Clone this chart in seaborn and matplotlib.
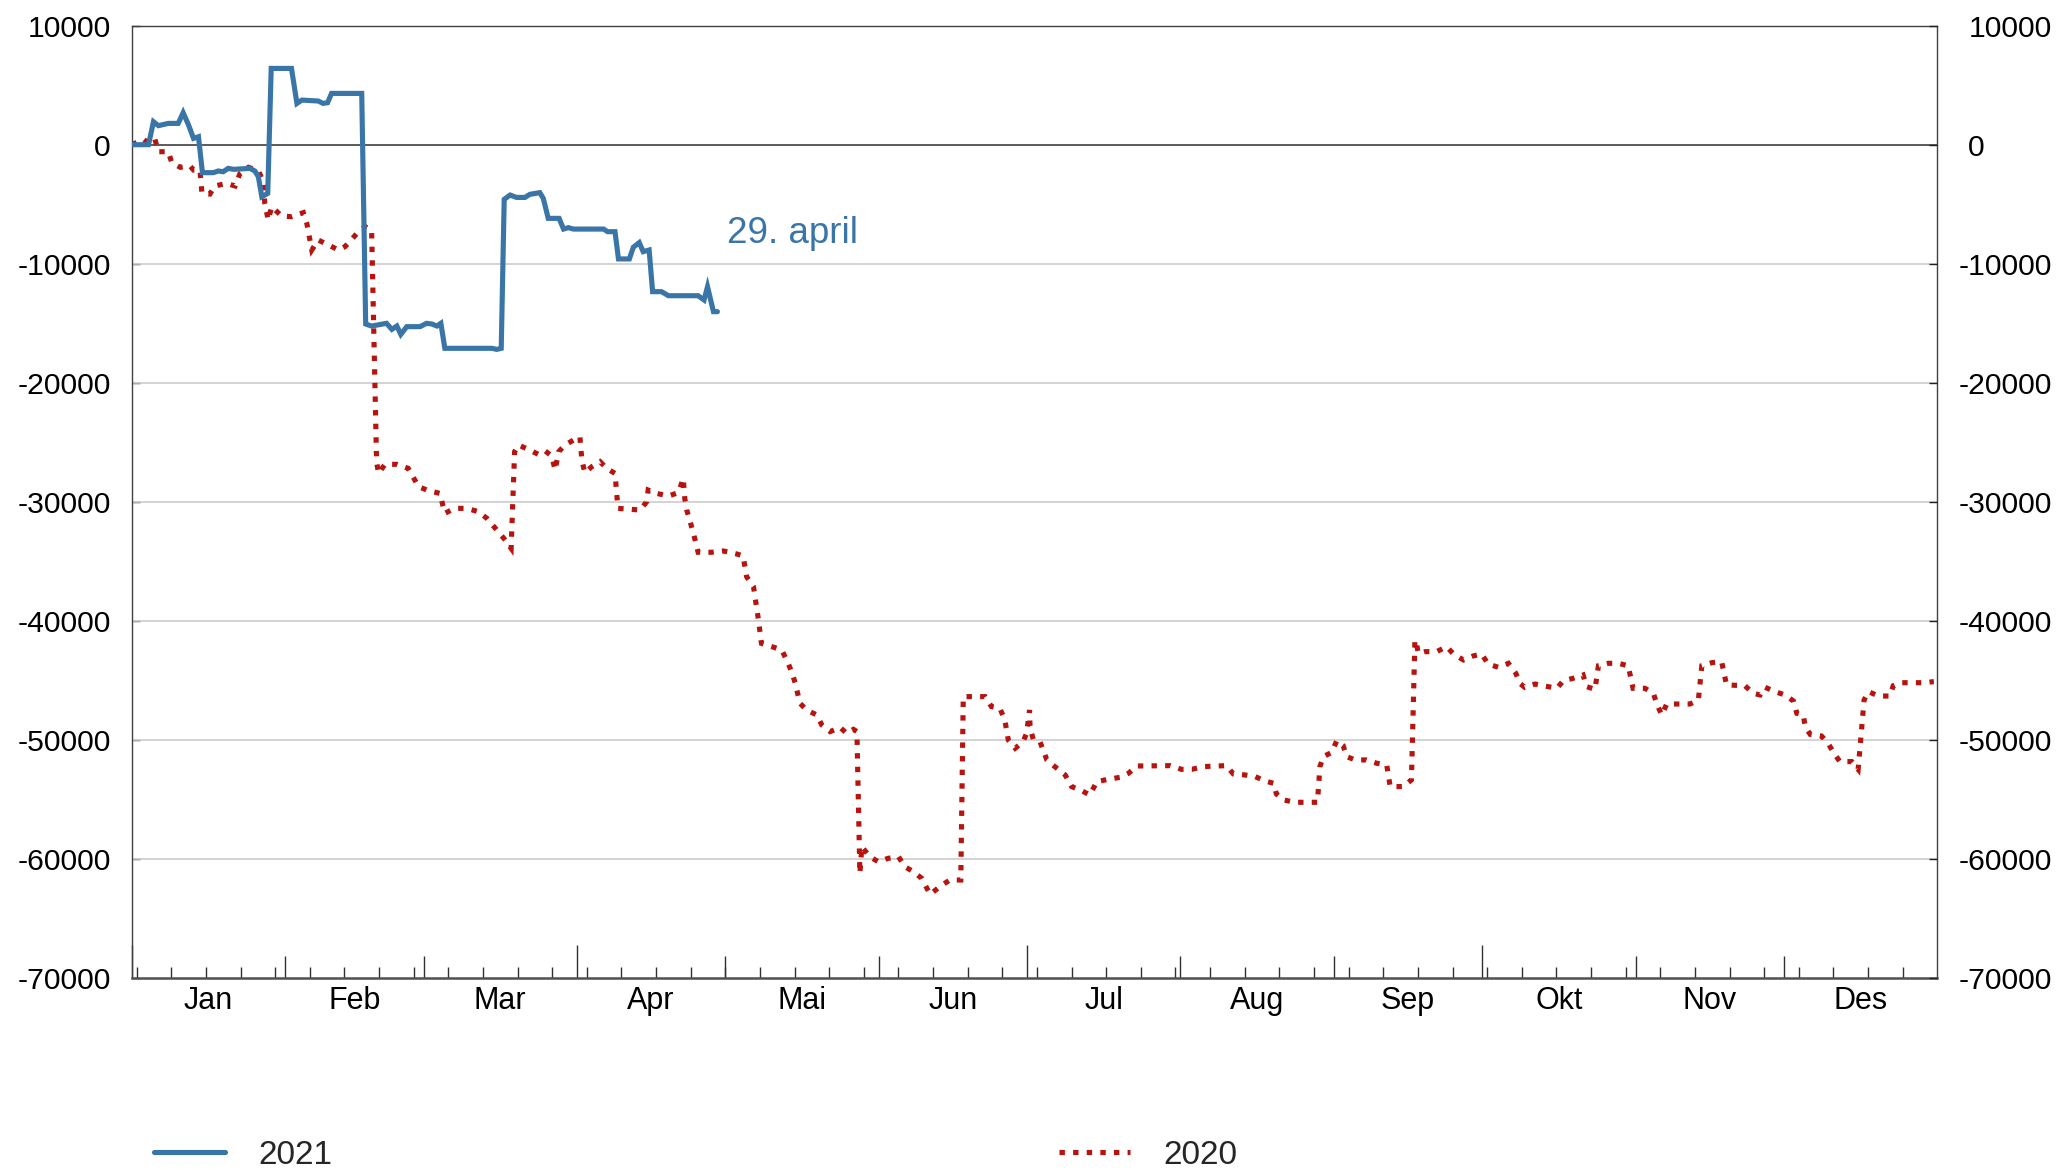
import numpy as np
import pandas as pd
import matplotlib
matplotlib.use("Agg")
import matplotlib.pyplot as plt
import matplotlib.transforms as mtransforms
from matplotlib.lines import Line2D
import seaborn as sns

# ---------------- data (day of year, 0 = 1 Jan) ----------------
days_2021 = [0, 3.4, 4.4, 5.4, 7.4, 9.4, 10.4, 11.5, 12.5, 13.5,
             14.3, 16.5, 17.5, 18.5, 19.5, 20.6, 23.9, 24.9, 25.6, 26.3,
             27.5, 28.2, 32.3, 33.4, 34.4, 37.7, 38.7, 39.6, 40.4, 46.5,
             47.3, 48.5, 51.5, 52.6, 53.6, 54.4, 55.6, 58.3, 59.6, 60.7,
             61.7, 62.5, 63.3, 72.8, 73.8, 74.7, 75.3, 76.5, 77.8, 79.5,
             80.5, 82.5, 83.2, 84.2, 86.4, 87.3, 88.3, 89.3, 95.4, 96.2,
             97.7, 98.4, 100.6, 101.4, 102.6, 103.4, 104.6, 105.3, 107.1, 108.5,
             114.5, 115.7, 116.4, 117.6, 118.4]
values_2021 = [0, 0, 1930, 1600, 1790, 1790, 2690, 1650, 530, 670,
               -2350, -2350, -2210, -2270, -1990, -2070, -1990, -2210, -2690, -4370,
               -4090, 6410, 6410, 3470, 3750, 3670, 3470, 3530, 4310, 4310,
               -15070, -15240, -15010, -15520, -15240, -15940, -15290, -15290, -15010, -15070,
               -15240, -15010, -17110, -17110, -17200, -17110, -4590, -4230, -4430, -4430,
               -4170, -4030, -4510, -6190, -6190, -7090, -6970, -7090, -7090, -7310,
               -7310, -9600, -9600, -8620, -8230, -8990, -8850, -12350, -12350, -12690,
               -12690, -13050, -11930, -14030, -14030]

days_2020 = [0, 2.4, 3.5, 4.7, 5.4, 7.4, 8.1, 9.8, 11.8, 12.5,
             13.8, 14.2, 15.8, 16.8, 19.2, 20.9, 21.9, 23.6, 25.6, 26.6,
             26.9, 27.6, 28.3, 30.3, 32.3, 34.7, 35.4, 36.4, 37.7, 39.8,
             41.8, 43.1, 44.5, 45.8, 47.2, 48.5, 49.5, 49.9, 51.2, 53.6,
             55.9, 58.0, 60.0, 62.3, 63.3, 65.3, 67.7, 70.1, 71.8, 74.1,
             75.5, 76.7, 77.4, 78.2, 80.2, 82.2, 83.6, 84.9, 85.6, 86.3,
             87.6, 89.3, 90.6, 91.0, 91.6, 93.0, 94.7, 96.0, 97.7, 98.3,
             102.8, 104.1, 104.4, 106.1, 108.5, 110.5, 111.5, 111.8, 112.2, 112.9,
             113.9, 114.5, 117.2, 119.6, 122.3, 123.6, 124.3, 125.7, 126.0, 126.7,
             127.3, 129.4, 131.4, 132.4, 133.4, 134.1, 135.1, 136.4, 138.5, 139.5,
             141.2, 143.2, 144.5, 145.9, 146.6, 147.2, 147.6, 149.2, 150.9, 152.9,
             155.0, 156.3, 158.0, 159.7, 161.4, 163.5, 165.4, 167.6, 168.1, 172.5,
             173.8, 175.5, 176.5, 177.2, 178.6, 180.2, 180.9, 181.5, 181.6, 182.3,
             183.6, 185.0, 186.6, 188.7, 190.0, 192.0, 193.7, 195.1, 197.4, 199.8,
             201.5, 203.2, 209.9, 212.2, 214.3, 216.6, 221.3, 222.7, 225.0, 227.1,
             229.1, 230.8, 231.4, 232.8, 235.2, 239.7, 240.2, 240.9, 242.6, 243.6,
             244.9, 245.6, 247.3, 249.6, 251.7, 253.7, 254.4, 257.1, 258.7, 259.4,
             259.7, 260.1, 261.4, 263.8, 265.8, 267.2, 269.2, 271.2, 272.9, 274.2,
             276.3, 278.3, 279.8, 280.6, 281.6, 283.7, 285.7, 288.1, 289.4, 291.4,
             293.4, 294.1, 295.8, 296.5, 298.5, 300.5, 302.5, 303.5, 305.9, 307.6,
             308.3, 309.3, 310.3, 315.0, 316.7, 317.4, 319.5, 321.4, 322.4, 326.1,
             327.8, 329.2, 330.2, 332.2, 334.2, 335.9, 336.6, 337.9, 338.3, 339.3,
             341.6, 343.0, 344.0, 345.3, 347.7, 349.0, 350.2, 351.1, 353.1, 355.4,
             356.1, 357.5, 362.2, 364.3]
values_2020 = [0, 450, 100, 450, -590, -590, -1510, -1900, -1790, -2130,
               -2130, -4090, -4150, -3470, -3250, -3470, -2410, -1900, -2180, -3110,
               -4930, -6330, -5210, -5990, -6050, -5710, -6610, -8850, -8010, -8430,
               -8850, -8570, -7950, -7310, -6890, -7170, -26640, -27620, -26860, -26860,
               -27200, -28740, -29070, -29300, -30980, -30560, -30560, -30840, -31400, -32520,
               -33220, -33920, -25800, -25240, -25610, -26020, -25740, -26160, -27340, -25800,
               -25240, -24820, -24540, -26500, -27560, -27060, -26640, -27200, -27620, -30560,
               -30700, -30000, -29020, -29300, -29520, -29240, -28040, -29720, -30700, -31680,
               -33220, -34250, -34250, -34140, -34390, -34560, -36300, -37140, -37980, -39940,
               -41900, -42180, -42460, -43300, -44280, -45200, -46940, -47500, -47920, -48760,
               -49320, -48960, -49460, -49130, -49320, -61230, -58990, -59830, -60250, -59970,
               -59830, -60670, -61090, -61650, -63000, -62300, -61790, -61790, -46380, -46380,
               -47220, -47360, -48340, -50020, -50720, -50160, -49460, -47500, -49040, -50020,
               -50160, -51700, -52260, -52960, -53940, -54280, -54640, -53520, -53330, -53160,
               -52820, -52210, -52180, -52490, -52490, -52260, -52180, -52880, -52960, -53100,
               -53470, -53660, -54560, -55060, -55260, -55260, -52260, -51420, -51060, -50080,
               -50500, -51420, -51700, -51700, -51980, -52120, -53940, -53940, -53380, -41620,
               -41900, -42740, -42600, -42600, -42180, -42800, -43300, -42960, -42800, -43640,
               -43920, -43580, -44420, -45260, -45600, -45320, -45490, -45680, -45040, -44840,
               -44560, -45540, -45770, -43780, -43580, -43580, -43780, -45680, -45680, -46100,
               -47000, -47920, -47000, -47000, -46660, -43780, -43520, -43440, -45400, -45460,
               -46100, -46240, -45600, -45960, -46240, -46740, -47780, -47920, -48900, -49550,
               -49690, -50360, -51060, -51840, -51840, -52490, -46660, -45960, -46330, -46330,
               -45460, -45210, -45210, -45120]

assert len(days_2021) == len(values_2021), (len(days_2021), len(values_2021))
assert len(days_2020) == len(values_2020), (len(days_2020), len(values_2020))

month_labels = ["Jan", "Feb", "Mar", "Apr", "Mai", "Jun",
                "Jul", "Aug", "Sep", "Okt", "Nov", "Des"]
month_lengths = [31, 28, 31, 30, 31, 30, 31, 31, 30, 31, 30, 31]
y_ticks = [10000, 0, -10000, -20000, -30000, -40000, -50000, -60000, -70000]
series_labels = ["2021", "2020"]
annotation_text = "29. april"

# ---------------- style ----------------
sns.set_theme(style="white")
plt.rcParams["font.family"] = ["Liberation Sans", "DejaVu Sans"]
plt.rcParams["axes.unicode_minus"] = False

BLUE = "#3a75a8"
RED = "#b8140f"
GRID = "#cccccc"
DARK = "#404040"
YFS = 21.7

W, H = 2060, 1170
fig = plt.figure(figsize=(W / 100, H / 100), dpi=100)
left_px, right_px, top_px, bottom_px = 131.7, 1937.3, 25.7, 977.7
ax = fig.add_axes([left_px / W, 1 - bottom_px / H,
                   (right_px - left_px) / W, (bottom_px - top_px) / H])

df21 = pd.DataFrame({"day": days_2021, "value": values_2021})
df20 = pd.DataFrame({"day": days_2020, "value": values_2020})

LW = 3.7
DOT = (0, (1.05, 1.6))
sns.lineplot(data=df20, x="day", y="value", ax=ax, color=RED, lw=LW,
             linestyle=DOT, sort=False, estimator=None, zorder=3,
             dash_capstyle="butt", dash_joinstyle="miter")
sns.lineplot(data=df21, x="day", y="value", ax=ax, color=BLUE, lw=LW,
             sort=False, estimator=None, zorder=4, solid_joinstyle="miter")

ax.set_xlim(0, 365)
ax.set_ylim(-70000, 10000)
ax.set_xlabel("")
ax.set_ylabel("")

# horizontal grid + zero line
for v in y_ticks:
    if v in (10000, -70000):
        continue
    ax.axhline(v, color=(DARK if v == 0 else GRID), lw=1.2, zorder=1)

# spines
for s in ["left", "right", "top"]:
    ax.spines[s].set_color(DARK)
    ax.spines[s].set_linewidth(1.0)
ax.spines["bottom"].set_color("#505050")
ax.spines["bottom"].set_linewidth(1.8)

# y ticks left
ax.set_yticks(y_ticks)
ax.set_yticklabels([str(v) for v in y_ticks])
ax.tick_params(axis="y", left=True, right=False, direction="in", length=5.8,
               width=1.0, color="#202020", labelsize=YFS, pad=15,
               labelcolor="black")

# x ticks: quarters (major) and month starts (minor)
month_starts = np.cumsum([0] + month_lengths[:-1])
quarters = [month_starts[i] for i in (0, 3, 6, 9)]
others = [m for m in month_starts if m not in quarters]
ax.set_xticks(quarters)
ax.set_xticks(others, minor=True)
ax.tick_params(axis="x", which="major", bottom=True, top=False, direction="in",
               length=23.8, width=1.0, color="#303030", labelbottom=False)
ax.tick_params(axis="x", which="minor", bottom=True, top=False, direction="in",
               length=15.6, width=1.0, color="#303030", labelbottom=False)

# weekly ticks
sec_w = ax.secondary_xaxis("bottom")
sec_w.set_xticks(np.arange(1, 365, 7))
sec_w.tick_params(bottom=True, direction="in", length=7.7, width=1.0,
                  color="#303030", labelbottom=False)
for sp in sec_w.spines.values():
    sp.set_visible(False)

# month labels in the middle of each month
centers = month_starts + np.array(month_lengths) / 2.0
sec_m = ax.secondary_xaxis("bottom")
sec_m.set_xticks(centers, month_labels)
sec_m.tick_params(length=0, labelsize=22, pad=6, labelcolor="black")
for sp in sec_m.spines.values():
    sp.set_visible(False)

# right axis
ax2 = ax.twinx()
ax2.set_ylim(ax.get_ylim())
ax2.set_yticks(y_ticks)
ax2.set_yticklabels([str(v) for v in y_ticks])
ax2.tick_params(axis="y", right=True, left=False, direction="in", length=5.8,
                width=1.0, color="#202020", labelsize=YFS, pad=22.3,
                labelcolor="black")
for sp in ax2.spines.values():
    sp.set_visible(False)
ax2.grid(False)
# hang the minus sign to the left so the digits line up
shift = mtransforms.ScaledTranslation(-0.333 * YFS / 72, 0, fig.dpi_scale_trans)
for tick, v in zip(ax2.yaxis.get_major_ticks(), y_ticks):
    if v < 0:
        tick.label2.set_transform(tick.label2.get_transform() + shift)

# annotation
ax.text(120.3, -8235, annotation_text, color=BLUE, fontsize=26.5,
        ha="left", va="baseline", zorder=5)

# legend
handles = [Line2D([], [], color=BLUE, lw=LW),
           Line2D([], [], color=RED, lw=LW, linestyle=DOT,
                  dash_capstyle="butt")]
fig.legend(handles, series_labels, loc="center left",
           bbox_to_anchor=(154.3 / W, 1 - 1155 / H), ncol=2, frameon=False,
           fontsize=24, handlelength=2.13, handletextpad=1.0,
           columnspacing=21.8, borderpad=0, borderaxespad=0)

fig.savefig("out.png", dpi=100)
